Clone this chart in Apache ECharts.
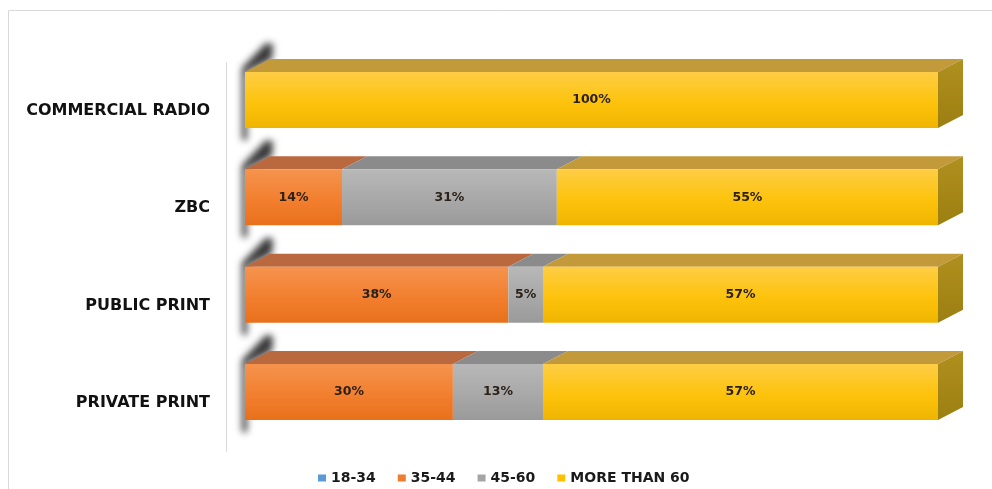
<!DOCTYPE html>
<html><head><meta charset="utf-8">
<script src="https://cdn.jsdelivr.net/npm/echarts@6/dist/echarts.min.js"></script>
<style>html,body{margin:0;padding:0;background:#fff}#c{width:992px;height:489px}</style>
</head><body><div id="c"></div>
<script>
// ---- data ----
const categories = ['COMMERCIAL RADIO', 'ZBC', 'PUBLIC PRINT', 'PRIVATE PRINT'];
const seriesNames = ['18-34', '35-44', '45-60', 'MORE THAN 60'];
const age18to34 = [0, 0, 0, 0];
const age35to44 = [0, 14, 38, 30];
const age45to60 = [0, 31, 5, 13];
const ageOver60 = [100, 55, 57, 57];
const seriesValues = [age18to34, age35to44, age45to60, ageOver60];

// ---- styles ----
const FONT = '"DejaVu Sans", "Liberation Sans", Arial, sans-serif';
const DX = 25, DY = 13;
const SHIFT = 3000;
const palette = [
  { legend: '#5b9bd5', front: ['#7aaee0', '#5b9bd5', '#4a88c2'], top: '#41719c', side: '#3a6690' },
  { legend: '#ed7d31', front: ['#f5934e', '#f27f2f', '#e8701b'], top: '#ba683e', side: '#a9562a' },
  { legend: '#a5a5a5', front: ['#b8b8b8', '#a8a8a8', '#9a9a9a'], top: '#8b8b8b', side: '#7a7a7a' },
  { legend: '#ffc000', front: ['#fecd45', '#fdc30c', '#efb400'], top: '#c39a3a', side: '#9c7f12' }
];

const chart = echarts.init(document.getElementById('c'), null, { renderer: 'canvas' });

function buildData(k) {
  return categories.map((c, i) => {
    let start = 0;
    for (let j = 0; j < k; j++) start += seriesValues[j][i];
    const v = seriesValues[k][i];
    return [start, start + v, i, v];
  });
}
function totalOf(i) { let s = 0; seriesValues.forEach(a => s += a[i]); return s; }

function makeRender(k) {
  const st = palette[k];
  return function (params, api) {
    const start = api.value(0), end = api.value(1), cat = api.value(2), val = api.value(3);
    if (!(val > 0)) return;
    const p0 = api.coord([start, cat]), p1 = api.coord([end, cat]);
    const band = api.size([0, 1])[1];
    const h = band * 0.575;
    const cy = p0[1], top = cy - h / 2, bot = cy + h / 2;
    const x0 = p0[0], x1 = p1[0];
    const children = [
      { type: 'polygon', shape: { points: [[x0, top], [x1, top], [x1 + DX, top - DY], [x0 + DX, top - DY]] },
        style: { fill: st.top } },
      { type: 'rect', shape: { x: x0, y: top, width: x1 - x0, height: h },
        style: { fill: new echarts.graphic.LinearGradient(0, 0, 0, 1, [
          { offset: 0, color: st.front[0] }, { offset: 0.55, color: st.front[1] }, { offset: 1, color: st.front[2] }]) } }
    ];
    if (Math.abs(end - totalOf(cat)) < 1e-9) {
      children.push({ type: 'polygon', shape: { points: [[x1, top], [x1 + DX, top - DY], [x1 + DX, bot - DY], [x1, bot]] },
        style: { fill: new echarts.graphic.LinearGradient(0, 0, 0, 1, [
          { offset: 0, color: '#b0901e' }, { offset: 1, color: st.side }]) } });
    }
    children.push({ type: 'text', style: { text: val + '%', x: (x0 + x1) / 2, y: cy, align: 'center', verticalAlign: 'middle',
      font: 'bold 12.5px ' + FONT, fill: '#2b2118' } });
    return { type: 'group', children };
  };
}

// soft blurred "wall" shadow at the left of each bar (shape drawn off-canvas, only its shadow shows)
function wallRender(params, api) {
  const cat = api.value(0);
  const p = api.coord([0, cat]);
  const band = api.size([0, 1])[1];
  const h = band * 0.575;
  const cy = p[1], top = cy - h / 2, bot = cy + h / 2;
  const x0 = p[0] - SHIFT;
  return {
    type: 'polygon',
    shape: { points: [[x0 - 3, bot + 12], [x0 - 3, top - 4], [x0 + 21, top - DY - 16], [x0 + 28, top - DY - 15], [x0 + DX + 2, top - DY], [x0 + 2, top], [x0 + 2, bot + 12]] },
    style: { fill: '#000', shadowBlur: 7, shadowColor: 'rgba(45,45,45,0.95)', shadowOffsetX: SHIFT, shadowOffsetY: 0 }
  };
}

const series = [{
  type: 'custom', name: 'wall', silent: true, z: 1, clip: false,
  renderItem: wallRender, encode: { x: -1, y: 0 },
  data: categories.map((c, i) => [i])
}];
seriesNames.forEach((name, k) => {
  series.push({
    type: 'custom', name: name, z: 2,
    itemStyle: { color: palette[k].legend },
    renderItem: makeRender(k),
    encode: { x: [0, 1], y: 2 },
    data: buildData(k)
  });
});

chart.setOption({
  animation: false,
  backgroundColor: '#ffffff',
  grid: { left: 245, right: 54, top: 51.3, bottom: 48.3, containLabel: false },
  xAxis: { type: 'value', min: 0, max: 100, show: false },
  yAxis: {
    type: 'category', data: categories, inverse: true,
    axisLine: { show: false }, axisTick: { show: false }, splitLine: { show: false },
    axisLabel: { margin: 35, fontFamily: FONT, fontWeight: 'bold', fontSize: 16, color: '#111111',
      verticalAlign: 'top', lineHeight: 22 }
  },
  legend: {
    data: seriesNames.map(n => ({ name: n, icon: 'rect' })),
    left: 313, top: 466, itemWidth: 8, itemHeight: 7, itemGap: 22, selectedMode: false,
    textStyle: { fontFamily: FONT, fontWeight: 'bold', fontSize: 14, color: '#1a1a1a' }
  },
  graphic: [
    { type: 'rect', silent: true, z: 0, shape: { x: 8.5, y: 10.5, width: 1000, height: 500 },
      style: { fill: 'none', stroke: '#d9d9d9', lineWidth: 1 } },
    { type: 'line', silent: true, z: 0, shape: { x1: 226.5, y1: 62, x2: 226.5, y2: 452 },
      style: { stroke: '#d9d9d9', lineWidth: 1 } }
  ],
  series: series
});
</script>
</body></html>
